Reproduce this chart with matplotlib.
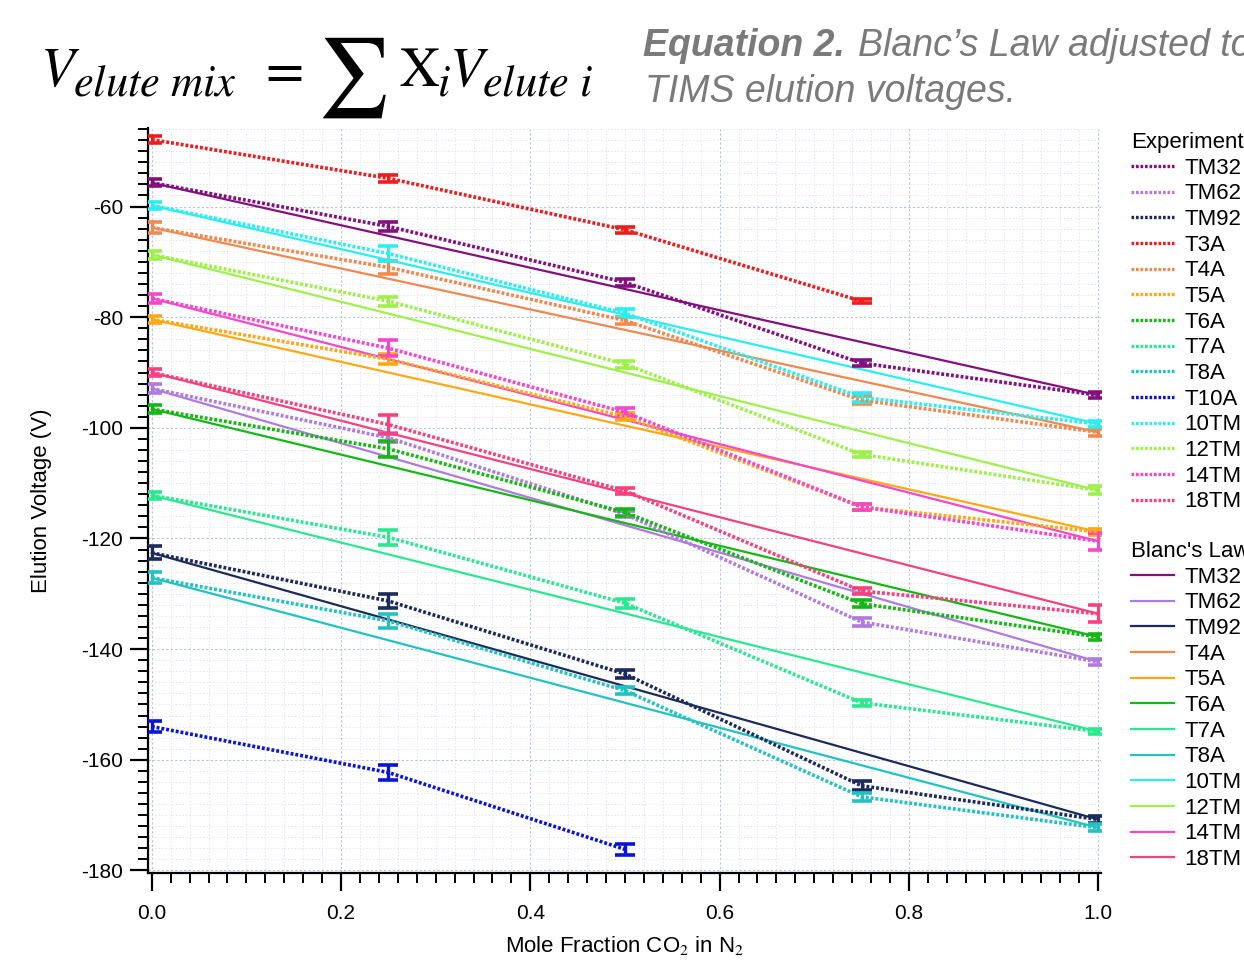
import matplotlib
matplotlib.use("Agg")
import matplotlib.pyplot as plt
from matplotlib.lines import Line2D
from matplotlib.ticker import MultipleLocator

plt.rcParams['font.family'] = ['Liberation Sans', 'DejaVu Sans']
plt.rcParams['mathtext.fontset'] = 'stix'
plt.rcParams['axes.unicode_minus'] = False

# ---------------- data ----------------
mole_fraction = [0.0, 0.25, 0.5, 0.75, 1.0]

names = ["TM32", "TM62", "TM92", "T3A", "T4A", "T5A", "T6A", "T7A", "T8A",
         "T10A", "10TM", "12TM", "14TM", "18TM"]

colors = {
    "TM32": "#84107f", "TM62": "#b07be0", "TM92": "#1c2a5c", "T3A": "#ee1c1c",
    "T4A": "#f2884e", "T5A": "#ffa814", "T6A": "#14b814", "T7A": "#2ae890",
    "T8A": "#22c2c2", "T10A": "#0a14d8", "10TM": "#2aeef0", "12TM": "#9ef04a",
    "14TM": "#f646cc", "18TM": "#f7407e",
}

TM32 = [-55.7, -63.6, -73.7, -88.3, -94.1]
TM62 = [-92.9, -101.8, -115.6, -135.1, -142.3]
TM92 = [-122.6, -131.3, -144.5, -164.7, -170.8]
T3A = [-47.9, -54.9, -64.2, -77.1]
T4A = [-63.8, -71.0, -80.6, -95.0, -100.8]
T5A = [-80.4, -87.6, -98.0, -114.3, -118.8]
T6A = [-96.6, -103.8, -115.3, -131.8, -137.8]
T7A = [-112.2, -119.8, -131.7, -149.7, -154.9]
T8A = [-127.1, -134.9, -147.5, -166.7, -172.3]
T10A = [-154.0, -162.3, -176.2]
TM10 = [-59.8, -68.5, -79.3, -94.5, -99.3]
TM12 = [-68.7, -77.1, -88.5, -104.8, -111.3]
TM14 = [-76.6, -85.6, -97.2, -114.3, -120.5]
TM18 = [-90.0, -99.4, -111.4, -129.5, -133.6]

TM32_err = [0.6, 0.8, 0.6, 0.5, 0.5]
TM62_err = [0.8, 0.8, 0.6, 0.7, 0.6]
TM92_err = [1.2, 1.2, 0.8, 0.8, 0.6]
T3A_err = [0.6, 0.6, 0.5, 0.4]
T4A_err = [1.0, 1.2, 0.6, 0.7, 0.6]
T5A_err = [0.7, 0.9, 0.6, 0.6, 0.5]
T6A_err = [0.7, 1.4, 0.7, 0.6, 0.6]
T7A_err = [0.6, 1.3, 0.8, 0.5, 0.5]
T8A_err = [1.0, 1.3, 0.6, 0.7, 0.6]
T10A_err = [1.0, 1.4, 1.0]
TM10_err = [0.6, 1.3, 0.7, 0.8, 0.5]
TM12_err = [0.7, 0.8, 0.6, 0.4, 0.7]
TM14_err = [0.8, 1.4, 0.7, 0.6, 1.5]
TM18_err = [0.6, 1.7, 0.6, 0.6, 1.5]

experiment = {
    "TM32": (TM32, TM32_err), "TM62": (TM62, TM62_err), "TM92": (TM92, TM92_err),
    "T3A": (T3A, T3A_err), "T4A": (T4A, T4A_err), "T5A": (T5A, T5A_err),
    "T6A": (T6A, T6A_err), "T7A": (T7A, T7A_err), "T8A": (T8A, T8A_err),
    "T10A": (T10A, T10A_err), "10TM": (TM10, TM10_err), "12TM": (TM12, TM12_err),
    "14TM": (TM14, TM14_err), "18TM": (TM18, TM18_err),
}
blanc_names = ["TM32", "TM62", "TM92", "T4A", "T5A", "T6A", "T7A", "T8A",
               "10TM", "12TM", "14TM", "18TM"]

# ---------------- figure ----------------
W, H = 1244, 961
fig = plt.figure(figsize=(W / 100, H / 100), dpi=100)
ax = fig.add_axes([148 / W, 1 - 873 / H, (1101 - 148) / W, (873 - 128) / H])

dots = (0, (0.8, 0.55))

# Blanc's law lines (linear between pure-gas end points)
for n in blanc_names:
    v = experiment[n][0]
    ax.plot([mole_fraction[0], mole_fraction[-1]], [v[0], v[-1]],
            color=colors[n], lw=1.6, zorder=3)

for n in names:
    v, e = experiment[n]
    x = mole_fraction[:len(v)]
    ax.errorbar(x, v, yerr=e, color=colors[n], ls=dots, lw=2.6,
                elinewidth=2.4, capsize=7.5, capthick=2.6, zorder=4)

ax.set_xlim(-0.004, 1.003)
ax.set_ylim(-180.47, -45.8)
ax.xaxis.set_major_locator(MultipleLocator(0.2))
ax.xaxis.set_minor_locator(MultipleLocator(0.02))
ax.yaxis.set_major_locator(MultipleLocator(20))
ax.yaxis.set_minor_locator(MultipleLocator(2))
ax.set_xticks([0.0, 0.2, 0.4, 0.6, 0.8, 1.0])
ax.set_xticklabels(["0.0", "0.2", "0.4", "0.6", "0.8", "1.0"])

ax.grid(which='major', color='#b8c0dc', ls=(0, (2, 2)), lw=0.8)
ax.grid(which='minor', color='#e2e6f0', ls=(0, (1.5, 2)), lw=0.7)
ax.set_axisbelow(True)

for s in ['top', 'right']:
    ax.spines[s].set_visible(False)
for s in ['left', 'bottom']:
    ax.spines[s].set_linewidth(1.6)

ax.tick_params(which='major', direction='out', length=13, width=1.6,
               labelsize=15, colors='black')
ax.tick_params(axis='x', which='major', pad=9)
ax.tick_params(axis='y', which='major', pad=5)
ax.tick_params(which='minor', direction='out', length=7, width=1.4)

ax.set_ylabel("Elution Voltage (V)", fontsize=16, labelpad=21)
ax.set_xlabel("Mole Fraction CO$_2$ in N$_2$", fontsize=16, labelpad=8)

# legends
leg_kw = dict(loc='upper left', frameon=False, fontsize=16, title_fontsize=16,
              handlelength=1.95, handletextpad=0.45, labelspacing=0.21,
              borderaxespad=0, borderpad=0, alignment='left')
exp_handles = [Line2D([], [], color=colors[n], ls=dots, lw=2.4) for n in names]
fig.legend(exp_handles, names, title="Experiment",
           bbox_to_anchor=(1131 / W, 1 - 132 / H), **leg_kw)
bl_handles = [Line2D([], [], color=colors[n], ls='-', lw=1.6) for n in blanc_names]
fig.legend(bl_handles, blanc_names, title="Blanc's Law",
           bbox_to_anchor=(1131 / W, 1 - 541 / H), **leg_kw)

# header: equation (pieces chained left to right) and caption
renderer = fig.canvas.get_renderer()


def chain(pieces, x0):
    x = x0
    for s, size, base, gap in pieces:
        t = fig.text(x / W, 1 - base / H, s, fontsize=size, ha='left', va='baseline')
        bb = t.get_window_extent(renderer)
        x = bb.x1 + gap
    return x


chain([(r"$V$", 40, 86, -7), (r"$elute\ mix$", 32, 95, 0)], 40)
fig.text(257 / W, 1 - 86 / H, r"$=$", fontsize=40, ha='left', va='baseline')
fig.text(317 / W, 1 - 98 / H, r"$\sum$", fontsize=57, ha='left', va='baseline')
chain([(r"$\mathrm{X}$", 40, 86, -3), (r"$i$", 32, 95, -2), (r"$V$", 40, 86, -7),
       (r"$elute\ i$", 32, 95, 0)], 399)

cap_kw = dict(fontsize=27, style='italic', color='#7a7a7a', ha='left', va='baseline')
fig.text(643 / W, 1 - 56 / H, "Equation 2.", weight='bold', **cap_kw)
fig.text(858 / W, 1 - 56 / H, "Blanc\u2019s Law adjusted to", **cap_kw)
fig.text(645 / W, 1 - 102 / H, "TIMS elution voltages.", **cap_kw)

fig.savefig("out.png", dpi=100)
